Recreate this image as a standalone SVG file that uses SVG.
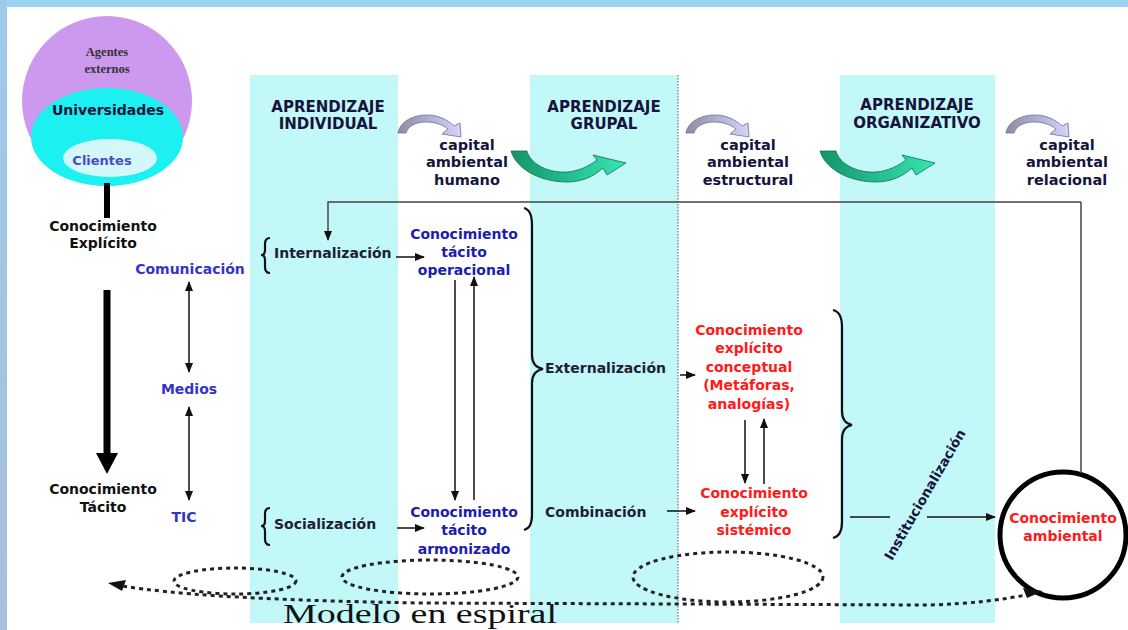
<svg xmlns="http://www.w3.org/2000/svg" width="1128" height="630" viewBox="0 0 1128 630">
<defs>
<linearGradient id="gGray" x1="0" y1="0" x2="1" y2="0"><stop offset="0" stop-color="#8c8ca6"/><stop offset="1" stop-color="#d4d4fa"/></linearGradient>
<linearGradient id="gGreen" x1="0" y1="0" x2="1" y2="0"><stop offset="0" stop-color="#14946a"/><stop offset="1" stop-color="#36e6b0"/></linearGradient>
<linearGradient id="gBorder" x1="0" y1="0" x2="0" y2="1"><stop offset="0" stop-color="#9ccbe8"/><stop offset="1" stop-color="#a8c0dc"/></linearGradient>
<marker id="ah2" viewBox="0 0 10 10" refX="9" refY="5" markerWidth="10" markerHeight="10" markerUnits="userSpaceOnUse" orient="auto-start-reverse"><path d="M0,1 L10,5 L0,9 Z" fill="#111"/></marker>
<path id="grayArrow" d="M0,21 C2,8 20,0 38,4 C46,6 52,10 56,14 L62,11 L63,25 L44,22 L50,17 C44,12 36,10 28,10 C18,10 10,14 8,21 Z" fill="url(#gGray)" stroke="#6e6e96" stroke-width="0.8"/>
<path id="greenArrow" d="M0,0 L16,0 C20,14 38,22 56,21 C68,20 78,15 86,9 L82,4 L115,12 L96,24 L92,17 C82,26 70,31 56,31 C32,31 6,20 0,0 Z" fill="url(#gGreen)" stroke="#0f6e4e" stroke-width="0.8"/>
</defs>
<style>
.col{fill:#c3f8f9}
.t{font-family:"DejaVu Sans",Verdana,sans-serif;fill:#14143c}
.hd{font-size:15px;font-weight:bold;text-anchor:middle}
.cap{font-size:14.5px;font-weight:bold;text-anchor:middle}
.lbl{font-size:14px;font-weight:bold;fill:#1e1e36}
.blue{font-family:"DejaVu Sans",Verdana,sans-serif;font-size:14px;font-weight:bold;fill:#3434c8;text-anchor:middle}
.dblue{font-family:"DejaVu Sans",Verdana,sans-serif;font-size:14px;font-weight:bold;fill:#1c1cb0;text-anchor:middle}
.red{font-family:"DejaVu Sans",Verdana,sans-serif;font-size:14px;font-weight:bold;fill:#ff1a1a;text-anchor:middle}
.blk{font-family:"DejaVu Sans",Verdana,sans-serif;font-size:14px;font-weight:bold;fill:#111;text-anchor:middle}
.ln{stroke:#111;stroke-width:1.5;fill:none}
.fb{stroke:#444;stroke-width:1.5;fill:none}
.br{stroke:#111;stroke-width:2.2;fill:none}
.dot{stroke:#222;stroke-width:3;stroke-dasharray:4 4;fill:none}
</style>
<rect x="0" y="0" width="1128" height="630" fill="#fff"/>
<rect x="0" y="0" width="1128" height="7" fill="#9dd2f2"/>
<rect x="0" y="0" width="7" height="630" fill="url(#gBorder)"/>
<g id="columns">
<rect class="col" x="250" y="75" width="148" height="548"/>
<rect class="col" x="530" y="75" width="148" height="548"/>
<rect class="col" x="840" y="75" width="155" height="548"/>
<line x1="678" y1="75" x2="678" y2="623" stroke="#555" stroke-width="1" stroke-dasharray="1.5 1.5"/>
</g>
<g id="agentes">
<circle cx="107" cy="101" r="85" fill="#cc99ee"/>
<ellipse cx="107" cy="137" rx="76" ry="49" fill="#1cf0f0"/>
<ellipse cx="110" cy="158" rx="47" ry="19" fill="#d4f8fa"/>
<text x="107" y="56" text-anchor="middle" font-family="Liberation Serif,serif" font-size="12.5" font-weight="bold" fill="#333">Agentes</text>
<text x="107" y="73" text-anchor="middle" font-family="Liberation Serif,serif" font-size="12.5" font-weight="bold" fill="#333">externos</text>
<text class="t" x="108" y="115" text-anchor="middle" font-size="14" font-weight="bold" fill="#141440">Universidades</text>
<text x="102" y="165" text-anchor="middle" font-family="DejaVu Sans,sans-serif" font-size="13" font-weight="bold" fill="#4a4ac8">Clientes</text>
</g>
<g id="headers">
<text class="t hd" x="328" y="112">APRENDIZAJE</text>
<text class="t hd" x="328" y="129">INDIVIDUAL</text>
<text class="t hd" x="604" y="112">APRENDIZAJE</text>
<text class="t hd" x="604" y="129">GRUPAL</text>
<text class="t hd" x="917" y="110">APRENDIZAJE</text>
<text class="t hd" x="917" y="128">ORGANIZATIVO</text>
</g>
<g id="capitales">
<text class="t cap" x="467" y="150">capital</text>
<text class="t cap" x="467" y="167">ambiental</text>
<text class="t cap" x="467" y="185">humano</text>
<text class="t cap" x="748" y="150">capital</text>
<text class="t cap" x="748" y="167">ambiental</text>
<text class="t cap" x="748" y="185">estructural</text>
<text class="t cap" x="1067" y="150">capital</text>
<text class="t cap" x="1067" y="167">ambiental</text>
<text class="t cap" x="1067" y="185">relacional</text>
</g>
<g id="flow-arrows">
<use href="#grayArrow" transform="translate(398,112)"/>
<use href="#grayArrow" transform="translate(686,112)"/>
<use href="#grayArrow" transform="translate(1006,112)"/>
<use href="#greenArrow" transform="translate(511,151)"/>
<use href="#greenArrow" transform="translate(820,151)"/>
</g>
<g id="left-axis">
<line x1="107" y1="183" x2="107" y2="218" stroke="#000" stroke-width="6"/>
<text class="blk" x="103" y="231">Conocimiento</text>
<text class="blk" x="103" y="248">Explícito</text>
<line x1="107" y1="290" x2="107" y2="455" stroke="#000" stroke-width="7"/>
<path d="M96,453 L118,453 L107,474 Z" fill="#000"/>
<text class="blk" x="103" y="494">Conocimiento</text>
<text class="blk" x="103" y="512">Tácito</text>
</g>
<g id="medios">
<text class="blue" x="190" y="274">Comunicación</text>
<line class="ln" x1="189" y1="282" x2="189" y2="372" marker-start="url(#ah2)" marker-end="url(#ah2)" stroke-width="1.3"/>
<text class="blue" x="189" y="394">Medios</text>
<line class="ln" x1="189" y1="407" x2="189" y2="500" marker-start="url(#ah2)" marker-end="url(#ah2)" stroke-width="1.3"/>
<text class="blue" x="184" y="522">TIC</text>
</g>
<g id="individual">
<path class="br" stroke-width="1.6" d="M270,238 Q265,238 265,244 L265,250 Q265,255 261,255 Q265,255 265,260 L265,267 Q265,273 270,273"/>
<text class="t lbl" x="274" y="258">Internalización</text>
<path class="br" stroke-width="1.6" d="M270,508 Q265,508 265,514 L265,521 Q265,526 261,526 Q265,526 265,531 L265,539 Q265,545 270,545"/>
<text class="t lbl" x="274" y="529">Socialización</text>
</g>
<g id="tacito">
<text class="dblue" x="464" y="239">Conocimiento</text>
<text class="dblue" x="464" y="257">tácito</text>
<text class="dblue" x="464" y="275">operacional</text>
<text class="dblue" x="464" y="517">Conocimiento</text>
<text class="dblue" x="464" y="535">tácito</text>
<text class="dblue" x="464" y="554">armonizado</text>
</g>
<g id="grupal">
<path class="br" d="M524,208 Q532,210 532,225 L532,355 Q532,367 543,369 Q532,371 532,383 L532,515 Q532,528 524,530"/>
<text class="t lbl" x="545" y="373">Externalización</text>
<text class="t lbl" x="545" y="517">Combinación</text>
</g>
<g id="explicito">
<text class="red" x="749" y="335">Conocimiento</text>
<text class="red" x="749" y="353">explícito</text>
<text class="red" x="749" y="372">conceptual</text>
<text class="red" x="749" y="390">(Metáforas,</text>
<text class="red" x="749" y="409">analogías)</text>
<text class="red" x="754" y="498">Conocimiento</text>
<text class="red" x="754" y="517">explícito</text>
<text class="red" x="754" y="535">sistémico</text>
</g>
<g id="organizativo">
<path class="br" d="M833,310 Q842,312 842,327 L842,411 Q842,423 852,425 Q842,427 842,439 L842,522 Q842,536 833,538"/>
<text class="t" x="0" y="0" font-size="13.5" font-weight="bold" text-anchor="middle" transform="translate(929,497) rotate(-60)">Institucionalización</text>
</g>
<g id="ambiental">
<circle cx="1063" cy="535" r="63" fill="#fff" stroke="#000" stroke-width="5"/>
<text class="red" x="1063" y="523" fill="#ee2222">Conocimiento</text>
<text class="red" x="1063" y="541" fill="#ee2222">ambiental</text>
</g>
<g id="connectors">
<path class="fb" d="M1081,202 L328,202 L328,240" marker-end="url(#ah2)"/>
<line class="fb" x1="1081" y1="202" x2="1081" y2="473"/>
<line class="ln" x1="396" y1="257" x2="424" y2="257" marker-end="url(#ah2)"/>
<line class="ln" x1="455" y1="280" x2="455" y2="500" marker-end="url(#ah2)"/>
<line class="ln" x1="474" y1="500" x2="474" y2="277" marker-end="url(#ah2)"/>
<line class="ln" x1="397" y1="528" x2="424" y2="528" marker-end="url(#ah2)"/>
<line class="ln" x1="680" y1="375" x2="695" y2="375" marker-end="url(#ah2)"/>
<line class="ln" x1="667" y1="511" x2="695" y2="511" marker-end="url(#ah2)"/>
<line class="ln" x1="745" y1="420" x2="745" y2="483" marker-end="url(#ah2)"/>
<line class="ln" x1="764" y1="484" x2="764" y2="419" marker-end="url(#ah2)"/>
<line class="ln" x1="850" y1="517" x2="890" y2="517"/>
<line class="ln" x1="927" y1="517" x2="995" y2="517" marker-end="url(#ah2)"/>
</g>
<g id="espiral">
<ellipse class="dot" cx="235" cy="581" rx="61" ry="13"/>
<ellipse class="dot" cx="430" cy="577" rx="88" ry="17"/>
<ellipse class="dot" cx="728" cy="577" rx="95" ry="25"/>
<path class="dot" d="M1030,594 Q990,603 930,605 L420,603 Q300,601 220,596 Q160,592 122,586"/>
<path d="M108,583 L126,580 L122,591 Z" fill="#111"/>
<path d="M1043,591 L1023,588 L1027,598 Z" fill="#111"/>
<text x="283" y="623" font-family="Liberation Serif,serif" font-size="28" textLength="274" lengthAdjust="spacingAndGlyphs" fill="#111">Modelo en espiral</text>
</g>
</svg>
